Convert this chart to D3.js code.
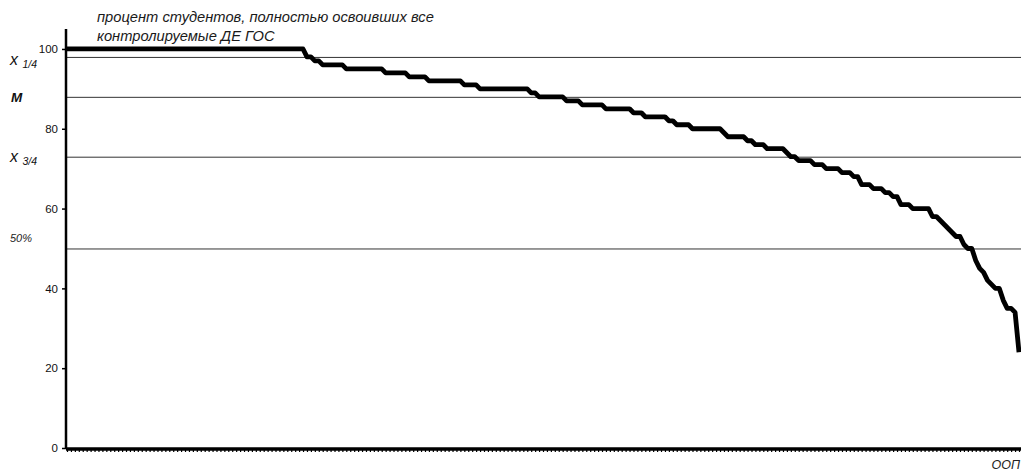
<!DOCTYPE html>
<html>
<head>
<meta charset="utf-8">
<script src="https://cdn.jsdelivr.net/npm/d3@7"></script>
<style>
  html, body { margin: 0; padding: 0; background: #fff; }
  svg { display: block; }
  text { font-family: "Liberation Sans", Arial, sans-serif; }
</style>
</head>
<body>
<svg id="chart" width="1021" height="472"></svg>
<script>
// Step levels (percent) and how many consecutive programmes share each level
const levels = [100, 98, 97, 96, 95, 94, 93, 92, 91, 90,
                89, 88, 87, 86, 85, 84, 83, 82, 81, 80,
                79, 78, 77, 76, 75, 74, 73, 72, 71, 70,
                69, 68, 66, 65, 64, 63, 61, 60, 58, 57,
                56, 55, 54, 53, 51, 50, 47, 45, 44, 42,
                41, 40, 37, 35, 34, 24];
const counts = [61, 2, 2, 6, 10, 6, 5, 9, 4, 13,
                2, 7, 4, 6, 7, 3, 6, 2, 4, 8,
                1, 5, 2, 3, 5, 1, 2, 4, 3, 4,
                3, 2, 3, 3, 2, 2, 3, 5, 2, 1,
                1, 1, 1, 2, 1, 2, 1, 1, 1, 1,
                1, 2, 1, 2, 1, 1];
// Reference lines: quartiles, median and 50%
const refValues = [98, 88, 73, 50];
const yTicks = [0, 20, 40, 60, 80, 100];
const titleLines = ["процент студентов, полностью освоивших все", "контролируемые ДЕ ГОС"];
const xLabel = "ООП";

// decode runs into the per-programme series
const series = [];
levels.forEach((v, i) => { for (let k = 0; k < counts[i]; k++) series.push(v); });
const N = series.length;

const svg = d3.select("#chart");
const x = d3.scaleLinear().domain([0, N - 1]).range([67, 1019]);
const y = d3.scaleLinear().domain([0, 105]).range([448, 29]);

// reference lines
svg.append("g").selectAll("line").data(refValues).join("line")
  .attr("x1", 66).attr("x2", 1021)
  .attr("y1", d => y(d) + 0.5).attr("y2", d => y(d) + 0.5)
  .attr("stroke", "#333").attr("stroke-width", 1);

// y axis
const yAxis = svg.append("g").attr("transform", "translate(66,0)")
  .call(d3.axisLeft(y).tickValues(yTicks).tickSize(4).tickPadding(4));
yAxis.select(".domain").attr("stroke", "#000").attr("stroke-width", 2.5)
  .attr("d", `M0,${y(105)}V${y(0) + 1}`);
yAxis.selectAll(".tick line").attr("stroke", "#000").attr("stroke-width", 1.5);
yAxis.selectAll(".tick text").attr("fill", "#111").style("font-size", "11.5px");

// x axis with one tick per programme
const xAxis = svg.append("g").attr("transform", `translate(0,${y(0) + 1})`)
  .call(d3.axisBottom(x).tickValues(d3.range(N)).tickSize(3).tickFormat(""));
xAxis.select(".domain").attr("stroke", "#000").attr("stroke-width", 3.5)
  .attr("d", `M66,0H1021`);
xAxis.selectAll(".tick line").attr("stroke", "#000").attr("stroke-width", 1.2);

// the curve
const line = d3.line().x((d, i) => x(i)).y(d => y(d));
svg.append("path").datum(series)
  .attr("d", line)
  .attr("fill", "none").attr("stroke", "#000")
  .attr("stroke-width", 4.8).attr("stroke-linejoin", "round");

// title
svg.append("g").selectAll("text").data(titleLines).join("text")
  .attr("x", 97).attr("y", (d, i) => 22 + i * 19)
  .attr("fill", "#1a1a1a").style("font-size", "14.7px").style("font-style", "italic")
  .text(d => d);

// reference line labels
function qLabel(yy, sub) {
  const t = svg.append("text").attr("x", 10).attr("y", yy)
    .attr("fill", "#111").style("font-style", "italic").style("font-size", "16px");
  t.append("tspan").text("x ");
  t.append("tspan").attr("dy", 3).style("font-size", "10.5px").text(sub);
}
qLabel(y(refValues[0]) + 8, "1/4");
qLabel(y(refValues[2]) + 5, "3/4");
svg.append("text").attr("x", 11).attr("y", y(refValues[1]) + 5)
  .attr("fill", "#111").style("font-style", "italic").style("font-weight", "bold")
  .style("font-size", "13.5px").text("M");
svg.append("text").attr("x", 10).attr("y", y(refValues[3]) - 6)
  .attr("fill", "#222").style("font-style", "italic").style("font-size", "11px").text("50%");

// x label at bottom right
svg.append("text").attr("x", 1020).attr("y", 469).attr("text-anchor", "end")
  .attr("fill", "#222").style("font-style", "italic").style("font-size", "12.5px").text(xLabel);
</script>
</body>
</html>
